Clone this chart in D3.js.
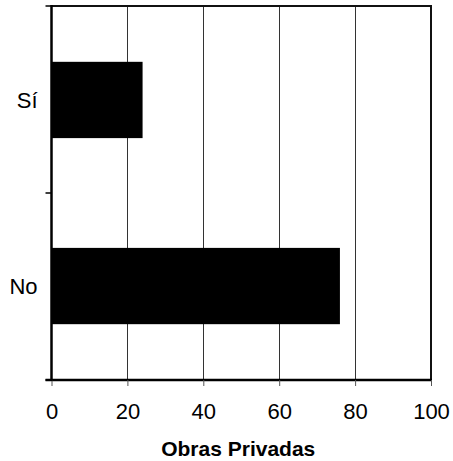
<!DOCTYPE html>
<html>
<head>
<meta charset="utf-8">
<script src="https://cdn.jsdelivr.net/npm/d3@7"></script>
<style>
  html, body { margin: 0; padding: 0; background: #fff; }
  svg { display: block; }
  text { font-family: "Liberation Sans", Arial, sans-serif; fill: #000; }
</style>
</head>
<body>
<svg id="chart" width="453" height="461"></svg>
<script>
const categories = ["Sí", "No"];
const values = [24, 76];
const xTicks = [0, 20, 40, 60, 80, 100];
const xTitle = "Obras Privadas";

(function () {
const svg = d3.select("#chart");
const mLeft = 51.5, mRight = 431, mTop = 6, mBottom = 380;

const x = d3.scaleLinear().domain([0, 100]).range([mLeft, mRight]);
const y = d3.scaleBand().domain(categories).range([mTop, mBottom]).paddingInner(0.59).paddingOuter(0.3);

// gridlines
svg.append("g").selectAll("line").data(xTicks.filter(d => d > 0 && d < 100)).join("line")
  .attr("x1", d => Math.round(x(d)) + 0.5).attr("x2", d => Math.round(x(d)) + 0.5)
  .attr("y1", mTop).attr("y2", mBottom)
  .attr("stroke", "#333").attr("stroke-width", 1);

// bars
svg.append("g").selectAll("rect").data(categories).join("rect")
  .attr("x", x(0))
  .attr("y", d => y(d))
  .attr("width", (d, i) => x(values[i]) - x(0))
  .attr("height", y.bandwidth())
  .attr("fill", "#000");

// frame
svg.append("line").attr("x1", mLeft).attr("x2", mRight).attr("y1", mTop).attr("y2", mTop).attr("stroke", "#111").attr("stroke-width", 2);
svg.append("line").attr("x1", mRight).attr("x2", mRight).attr("y1", mTop - 1).attr("y2", mBottom + 1).attr("stroke", "#111").attr("stroke-width", 2);

// x axis
const xAxis = svg.append("g").attr("transform", `translate(0,${mBottom})`)
  .call(d3.axisBottom(x).tickValues(xTicks).tickSize(6).tickPadding(17).tickFormat(d3.format("d")));
xAxis.select(".domain").attr("stroke", "#000").attr("stroke-width", 2.5).attr("d", `M${mLeft - 6},0H${mRight + 1}`);
xAxis.selectAll(".tick line").attr("stroke", "#555").attr("stroke-width", 1);
xAxis.selectAll(".tick text").attr("font-size", 22).attr("font-family", "Liberation Sans, Arial, sans-serif").attr("fill", "#000");

// y axis: ticks at band boundaries
const yBounds = [mTop, (mTop + mBottom) / 2, mBottom];
svg.append("g").selectAll("line").data(yBounds).join("line")
  .attr("x1", mLeft - 6).attr("x2", mLeft).attr("y1", d => d).attr("y2", d => d)
  .attr("stroke", "#000").attr("stroke-width", 1.5);
svg.append("line").attr("x1", mLeft).attr("x2", mLeft).attr("y1", mTop - 1).attr("y2", mBottom + 1).attr("stroke", "#000").attr("stroke-width", 2.5);

// category labels
svg.append("g").selectAll("text").data(categories).join("text")
  .attr("x", mLeft - 14)
  .attr("y", d => y(d) + y.bandwidth() / 2)
  .attr("dy", "0.36em")
  .attr("text-anchor", "end")
  .attr("font-size", 22)
  .text(d => d);

// title
svg.append("text").attr("x", (mLeft + mRight) / 2 - 3).attr("y", 456)
  .attr("text-anchor", "middle").attr("font-size", 21).attr("font-weight", "bold")
  .attr("fill", "#222")
  .text(xTitle);
})();
</script>
</body>
</html>
